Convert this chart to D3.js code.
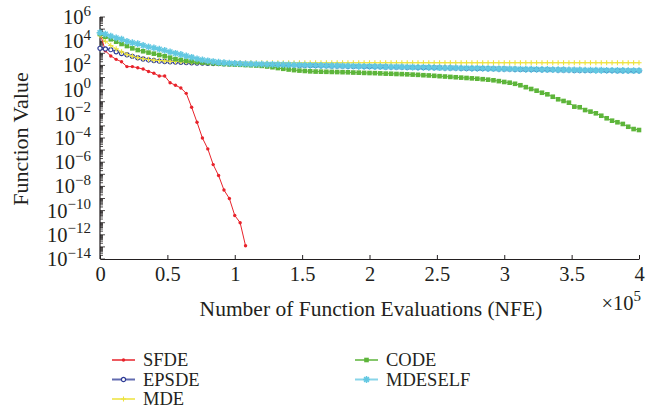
<!DOCTYPE html>
<html>
<head>
<meta charset="utf-8">
<script src="https://cdn.jsdelivr.net/npm/d3@7"></script>
<style>
  body { margin: 0; background: #fff; }
  svg text { font-family: "Liberation Serif", "DejaVu Serif", serif; fill: #231f20; }
</style>
</head>
<body>
<svg id="chart" width="651" height="410"></svg>
<script>
// NFE checkpoints (x 1e5 on the axis)
const nfe = [0, 4000, 8000, 12000, 16000, 20000, 24000, 28000, 32000, 36000,
  40000, 44000, 48000, 52000, 56000, 60000, 64000, 68000, 72000, 76000,
  80000, 84000, 88000, 92000, 96000, 100000, 104000, 108000, 112000, 116000,
  120000, 124000, 128000, 132000, 136000, 140000, 144000, 148000, 152000, 156000,
  160000, 164000, 168000, 172000, 176000, 180000, 184000, 188000, 192000, 196000,
  200000, 204000, 208000, 212000, 216000, 220000, 224000, 228000, 232000, 236000,
  240000, 244000, 248000, 252000, 256000, 260000, 264000, 268000, 272000, 276000,
  280000, 284000, 288000, 292000, 296000, 300000, 304000, 308000, 312000, 316000,
  320000, 324000, 328000, 332000, 336000, 340000, 344000, 348000, 352000, 356000,
  360000, 364000, 368000, 372000, 376000, 380000, 384000, 388000, 392000, 396000,
  400000];

// function values, given as log10 exponents
const sfde = [4.68, 3.2, 2.78, 2.5, 2.3, 1.9, 1.9, 1.8, 1.7, 1.5,
  1.35, 1.12, 1.12, 0.57, 0.36, 0.13, -0.31, -1.46, -2.7, -4.0,
  -4.9, -6.2, -7.1, -8.3, -9.0, -10.4, -11.0, -12.9];

const epsde = [3.41, 3.36, 3.3, 3.12, 2.98, 2.88, 2.75, 2.63, 2.53, 2.45,
  2.4, 2.35, 2.32, 2.3, 2.28, 2.26, 2.24, 2.22, 2.2, 2.19,
  2.17, 2.16, 2.15, 2.14, 2.13, 2.12, 2.11, 2.1, 2.09, 2.08,
  2.08, 2.07, 2.06, 2.05, 2.04, 2.03, 2.02, 2.01, 2.0, 1.99,
  1.98, 1.97, 1.96, 1.95, 1.95, 1.94, 1.93, 1.92, 1.91, 1.9,
  1.9, 1.89, 1.88, 1.87, 1.86, 1.86, 1.85, 1.84, 1.83, 1.82,
  1.82, 1.81, 1.8, 1.79, 1.78, 1.78, 1.77, 1.76, 1.75, 1.74,
  1.74, 1.73, 1.72, 1.71, 1.7, 1.7, 1.69, 1.68, 1.67, 1.66,
  1.66, 1.65, 1.64, 1.64, 1.63, 1.62, 1.62, 1.61, 1.6, 1.6,
  1.59, 1.59, 1.58, 1.58, 1.57, 1.57, 1.56, 1.56, 1.55, 1.55,
  1.55];

const mde = [4.45, 4.0, 3.65, 3.37, 3.12, 2.9, 2.76, 2.64, 2.55, 2.49,
  2.44, 2.4, 2.37, 2.34, 2.32, 2.3, 2.28, 2.27, 2.26, 2.25,
  2.24, 2.24, 2.23, 2.23, 2.23, 2.23, 2.23, 2.22, 2.22, 2.22,
  2.22, 2.22, 2.22, 2.22, 2.22, 2.22, 2.22, 2.22, 2.22, 2.22,
  2.22, 2.22, 2.22, 2.22, 2.22, 2.22, 2.22, 2.22, 2.22, 2.22,
  2.22, 2.22, 2.22, 2.22, 2.22, 2.22, 2.22, 2.22, 2.22, 2.22,
  2.22, 2.22, 2.22, 2.22, 2.22, 2.22, 2.22, 2.22, 2.22, 2.22,
  2.22, 2.22, 2.22, 2.22, 2.22, 2.22, 2.22, 2.22, 2.22, 2.22,
  2.22, 2.22, 2.22, 2.22, 2.22, 2.22, 2.22, 2.22, 2.22, 2.22,
  2.22, 2.22, 2.22, 2.22, 2.22, 2.22, 2.22, 2.22, 2.22, 2.22,
  2.22];

const code = [4.6, 4.37, 4.16, 3.96, 3.77, 3.6, 3.41, 3.27, 3.17, 3.06,
  2.97, 2.86, 2.76, 2.64, 2.52, 2.45, 2.38, 2.33, 2.28, 2.24,
  2.2, 2.17, 2.14, 2.11, 2.09, 2.07, 2.05, 2.03, 2.01, 1.99,
  1.96, 1.91, 1.85, 1.78, 1.72, 1.66, 1.61, 1.57, 1.54, 1.51,
  1.49, 1.48, 1.47, 1.46, 1.45, 1.44, 1.43, 1.41, 1.4, 1.38,
  1.37, 1.36, 1.34, 1.32, 1.31, 1.29, 1.28, 1.26, 1.24, 1.22,
  1.19, 1.17, 1.14, 1.11, 1.08, 1.05, 1.02, 0.99, 0.96, 0.93,
  0.9, 0.86, 0.82, 0.77, 0.7, 0.63, 0.57, 0.48, 0.36, 0.2,
  0.05, -0.09, -0.26, -0.39, -0.59, -0.8, -0.94, -1.08, -1.41, -1.46,
  -1.69, -1.82, -1.96, -2.16, -2.37, -2.57, -2.7, -2.84, -3.07, -3.26,
  -3.34];

const mdeself = [4.7, 4.58, 4.42, 4.28, 4.16, 3.99, 3.87, 3.79, 3.66, 3.53,
  3.45, 3.34, 3.24, 3.11, 3.0, 2.9, 2.78, 2.67, 2.54, 2.45,
  2.38, 2.32, 2.26, 2.22, 2.19, 2.17, 2.15, 2.13, 2.12, 2.11,
  2.1, 2.09, 2.08, 2.07, 2.06, 2.05, 2.04, 2.03, 2.02, 2.01,
  2.0, 1.99, 1.98, 1.97, 1.97, 1.96, 1.95, 1.94, 1.93, 1.92,
  1.92, 1.91, 1.9, 1.89, 1.88, 1.88, 1.87, 1.86, 1.85, 1.84,
  1.84, 1.83, 1.82, 1.81, 1.8, 1.8, 1.79, 1.78, 1.77, 1.76,
  1.76, 1.75, 1.74, 1.73, 1.72, 1.72, 1.71, 1.7, 1.69, 1.68,
  1.68, 1.67, 1.66, 1.66, 1.65, 1.64, 1.64, 1.63, 1.62, 1.62,
  1.61, 1.61, 1.6, 1.6, 1.59, 1.59, 1.58, 1.58, 1.57, 1.57,
  1.57];

const seriesNames = ['SFDE', 'EPSDE', 'MDE', 'CODE', 'MDESELF'];
const seriesValues = [sfde, epsde, mde, code, mdeself];
const seriesColors = ['#e8232b', '#2e3b96', '#ede23c', '#5db53a', '#62c8e2'];
const seriesMarkers = ['dot', 'circle', 'plus', 'square', 'star'];

const xTicks = [0, 0.5, 1, 1.5, 2, 2.5, 3, 3.5, 4];
const yTickExps = [6, 4, 2, 0, -2, -4, -6, -8, -10, -12, -14];

const size = {w: 651, h: 410};
const margin = {l: 100, r: 12, t: 17, b: 151};
const cw = size.w - margin.l - margin.r;
const ch = size.h - margin.t - margin.b;

const svg = d3.select('#chart');
const canvas = svg.append('g')
  .attr('transform', `translate(${margin.l}, ${margin.t})`);

const xScale = d3.scaleLinear().domain([0, 4e5]).range([0, cw]);
const yScale = d3.scaleLog().domain([1e-14, 1e6]).range([ch, 0]);

const sup = s => s.replace('-', '\u2212');

// y axis with dense log minor ticks
let yMinor = [];
for (let e = -14; e < 6; e++) {
  for (let m = 1; m < 10; m++) yMinor.push(m * Math.pow(10, e));
}
yMinor.push(1e6);
canvas.append('g').selectAll('line')
  .data(yMinor)
  .join('line')
  .attr('x1', 0)
  .attr('x2', d => Math.abs(Math.log10(d) - Math.round(Math.log10(d))) < 1e-9 ? 5 : 3)
  .attr('y1', d => yScale(d))
  .attr('y2', d => yScale(d))
  .attr('stroke', '#231f20')
  .attr('stroke-width', 0.8);

canvas.append('line')
  .attr('x1', 0).attr('x2', 0).attr('y1', 0).attr('y2', ch)
  .attr('stroke', '#231f20').attr('stroke-width', 1.2);

const yLab = canvas.append('g').selectAll('text')
  .data(yTickExps)
  .join('text')
  .attr('x', -9)
  .attr('y', d => yScale(Math.pow(10, d)) + 7)
  .attr('text-anchor', 'end')
  .style('font-size', '20.5px');
yLab.append('tspan').text('10');
yLab.append('tspan')
  .attr('dy', -8.5)
  .style('font-size', '15px')
  .text(d => sup(String(d)));

// x axis, ticks pointing inside
const xAxis = d3.axisBottom(xScale)
  .tickValues(xTicks.map(d => d * 1e5))
  .tickSize(-4)
  .tickSizeOuter(0)
  .tickPadding(7)
  .tickFormat((d, i) => String(xTicks[i]));

const axisG = canvas.append('g')
  .attr('transform', `translate(0, ${ch})`)
  .call(xAxis);
axisG.select('.domain').attr('stroke', '#231f20').attr('stroke-width', 1.2);
axisG.selectAll('.tick line').attr('stroke', '#231f20');
axisG.selectAll('.tick text')
  .attr('dy', '0.71em')
  .style('font-size', '20.5px')
  .style('font-family', '"Liberation Serif", serif')
  .attr('fill', '#231f20');

svg.append('text')
  .attr('x', 371)
  .attr('y', 316)
  .attr('text-anchor', 'middle')
  .style('font-size', '21.5px')
  .text('Number of Function Evaluations (NFE)');

const mult = svg.append('text')
  .attr('x', 641)
  .attr('y', 310)
  .attr('text-anchor', 'end')
  .style('font-size', '20.5px');
mult.append('tspan').text('\u00d710');
mult.append('tspan').attr('dy', -9).style('font-size', '15px').text('5');

svg.append('text')
  .attr('transform', 'translate(28, 139) rotate(-90)')
  .attr('text-anchor', 'middle')
  .style('font-size', '22px')
  .text('Function Value');

// marker drawing
function drawMarker(g, kind, color) {
  if (kind === 'dot') {
    g.append('circle').attr('r', 1.7).attr('fill', color);
  } else if (kind === 'circle') {
    g.append('circle').attr('r', 2.1).attr('fill', '#fff')
      .attr('stroke', color).attr('stroke-width', 1.2);
  } else if (kind === 'plus') {
    g.append('path').attr('d', 'M-2.6,0H2.6M0,-2.6V2.6')
      .attr('stroke', color).attr('stroke-width', 1.1);
  } else if (kind === 'square') {
    g.append('rect').attr('x', -2.3).attr('y', -2.3)
      .attr('width', 4.6).attr('height', 4.6).attr('fill', color);
  } else if (kind === 'star') {
    g.append('path').attr('d', 'M-3.4,0H3.4M0,-3.4V3.4M-2.4,-2.4L2.4,2.4M-2.4,2.4L2.4,-2.4')
      .attr('stroke', color).attr('stroke-width', 1.5);
  }
}

const line = d3.line()
  .x(d => xScale(d[0]))
  .y(d => yScale(Math.pow(10, d[1])));

seriesValues.forEach((vals, k) => {
  const pts = vals.map((v, i) => [nfe[i], v]);
  const sg = canvas.append('g').classed('series', true);
  sg.append('path')
    .datum(pts)
    .attr('d', line)
    .attr('fill', 'none')
    .attr('stroke', seriesColors[k])
    .attr('stroke-width', 1);
  sg.selectAll('.mk')
    .data(pts)
    .join('g')
    .classed('mk', true)
    .attr('transform', d => `translate(${xScale(d[0])}, ${yScale(Math.pow(10, d[1]))})`)
    .each(function(){ drawMarker(d3.select(this), seriesMarkers[k], seriesColors[k]); });
});

// legend
const legendPos = [[112, 360], [112, 379.5], [112, 399], [355, 360], [355, 379.5]];
const legend = svg.append('g');
seriesNames.forEach((name, k) => {
  const [lx, ly] = legendPos[k];
  const lg = legend.append('g');
  lg.append('line')
    .attr('x1', lx).attr('x2', lx + 23).attr('y1', ly).attr('y2', ly)
    .attr('stroke', seriesColors[k]).attr('stroke-width', 2).attr('opacity', 0.75);
  drawMarker(lg.append('g').attr('transform', `translate(${lx + 11.5}, ${ly})`),
    seriesMarkers[k], seriesColors[k]);
  lg.append('text')
    .attr('x', lx + 31)
    .attr('y', ly + 6.3)
    .style('font-size', '18.5px')
    .text(name);
});
</script>
</body>
</html>
